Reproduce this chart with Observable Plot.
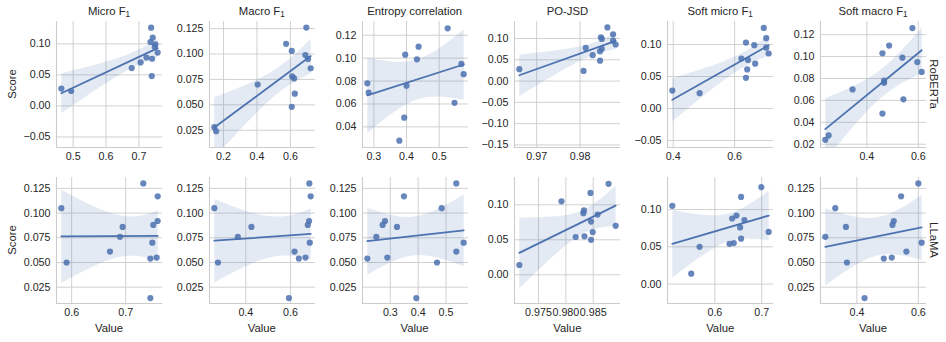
<!DOCTYPE html>
<html>
<head>
<meta charset="utf-8">
<script src="https://cdn.jsdelivr.net/npm/d3@7"></script>
<script src="https://cdn.jsdelivr.net/npm/@observablehq/plot@0.6"></script>
<style>
  html, body { margin: 0; padding: 0; background: #fff; }
  #chart { position: relative; width: 946px; height: 342px; overflow: hidden;
           font-family: "Liberation Sans", Arial, sans-serif; color: #262626; }
  .abs { position: absolute; white-space: nowrap; }
  .title { font-size: 11.3px; text-align: center; line-height: 16px; }
  .sub { font-size: 0.72em; position: relative; top: 0.3em; }
  .lab { font-size: 11.3px; line-height: 14px; }
</style>
</head>
<body>
<div id="chart"></div>
<script>
// ---------- data ----------
const models = ["RoBERTa", "LLaMA"];
const titleText = ["Micro F", "Macro F", "Entropy correlation", "PO-JSD", "Soft micro F", "Soft macro F"];
const titleSub  = ["1", "1", "", "", "1", "1"];

const robertaScore = [0.126, 0.110, 0.103, 0.099, 0.095, 0.086, 0.078, 0.076, 0.070, 0.061, 0.048, 0.028, 0.024];
const robertaMicroF1   = [0.737, 0.742, 0.735, 0.750, 0.748, 0.757, 0.723, 0.740, 0.705, 0.678, 0.739, 0.464, 0.494];
const robertaMacroF1   = [0.695, 0.574, 0.608, 0.689, 0.705, 0.721, 0.610, 0.622, 0.404, 0.626, 0.608, 0.145, 0.156];
const robertaEntropy   = [0.526, 0.437, 0.396, 0.432, 0.568, 0.575, 0.280, 0.400, 0.284, 0.547, 0.393, 0.378, null];
const robertaPoJsd     = [0.9863, 0.9876, 0.9848, 0.9850, 0.9876, 0.9882, 0.9813, 0.9850, 0.9846, 0.9829, 0.9846, 0.9660, 0.9808];
const robertaSoftMicro = [0.695, 0.703, 0.637, 0.664, 0.703, 0.711, 0.622, 0.6435, 0.667, 0.641, 0.637, 0.397, 0.486];
const robertaSoftMacro = [0.577, 0.4865, 0.4606, 0.538, 0.596, 0.613, 0.467, 0.467, 0.3445, 0.542, 0.4606, 0.2516, 0.2387];

const llamaScore = [0.130, 0.117, 0.105, 0.092, 0.088, 0.086, 0.076, 0.070, 0.061, 0.055, 0.054, 0.050, 0.014];
const llamaMicroF1   = [0.7327, 0.7593, 0.5809, 0.7593, 0.7512, 0.6944, 0.6895, 0.7494, 0.671, 0.7574, 0.7457, 0.5907, 0.7457];
const llamaMacroF1   = [0.684, 0.690, 0.2593, 0.683, 0.677, 0.4252, 0.3644, 0.686, 0.6178, 0.6667, 0.637, 0.2756, 0.5926];
const llamaEntropy   = [0.537, 0.349, 0.4844, 0.2808, 0.2725, 0.324, 0.2497, 0.5635, 0.537, 0.2892, 0.2174, 0.4677, 0.3934];
const llamaPoJsd     = [0.9878, 0.9845, 0.9792, 0.9833, 0.9832, 0.9858, 0.9846, 0.9891, 0.9849, 0.9834, 0.9818, 0.9846, 0.9715];
const llamaSoftMicro = [0.6993, 0.656, 0.5092, 0.6461, 0.6369, 0.6631, 0.6539, 0.7149, 0.656, 0.6404, 0.6312, 0.5674, 0.5496];
const llamaSoftMacro = [0.600, 0.5438, 0.3297, 0.520, 0.5157, 0.3643, 0.2973, 0.6108, 0.5611, 0.5135, 0.4876, 0.3676, 0.4249];

const xTickLabels = [
  [["0.5","0.6","0.7"], ["0.2","0.4","0.6"], ["0.3","0.4","0.5"], ["0.97","0.98"], ["0.4","0.6"], ["0.4","0.6"]],
  [["0.6","0.7"], ["0.4","0.6"], ["0.3","0.4","0.5"], ["0.975","0.980","0.985"], ["0.6","0.7"], ["0.4","0.6"]]
];
const yTickLabels = [
  [["−0.05","0.00","0.05","0.10"], ["0.025","0.050","0.075","0.100","0.125"], ["0.04","0.06","0.08","0.10","0.12"],
   ["−0.15","−0.10","−0.05","0.00","0.05","0.10"], ["−0.05","0.00","0.05","0.10"], ["0.02","0.04","0.06","0.08","0.10","0.12"]],
  [["0.025","0.050","0.075","0.100","0.125"], ["0.025","0.050","0.075","0.100","0.125"], ["0.025","0.050","0.075","0.100","0.125"],
   ["0.00","0.05","0.10"], ["0.00","0.05","0.10"], ["0.025","0.050","0.075","0.100","0.125"]]
];
const yDomains = [
  [[-0.067, 0.136], [0.008, 0.132], [0.022, 0.132], [-0.156, 0.140], [-0.061, 0.136], [0.017, 0.132]],
  [[0.0085, 0.136], [0.0085, 0.136], [0.0085, 0.136], [-0.041, 0.139], [-0.026, 0.143], [0.0085, 0.136]]
];
const xSeries = [
  [robertaMicroF1, robertaMacroF1, robertaEntropy, robertaPoJsd, robertaSoftMicro, robertaSoftMacro],
  [llamaMicroF1, llamaMacroF1, llamaEntropy, llamaPoJsd, llamaSoftMicro, llamaSoftMacro]
];
const scores = [robertaScore, llamaScore];

// ---------- layout ----------
const W = 106, H = 126;
const lefts = d3.range(6).map(i => 56 + 152.8 * i);
const tops = [20.7, 176.7];
const mL = 52, mR = 12, mT = 6, mB = 26;
const blue = "#4c72b0";
const grid = "#cccccc";
const chart = document.getElementById("chart");

const num = s => +s.replace("−", "-");

function panel(xs, ys, xl, yl, yDom) {
  const data = xs.map((x, i) => ({x, y: ys[i]})).filter(d => d.x != null);
  const ext = d3.extent(data, d => d.x);
  const pad = (ext[1] - ext[0]) * 0.05;
  const xDom = [ext[0] - pad, ext[1] + pad];
  const xt = xl.map(num), yt = yl.map(num);
  const xFmt = new Map(xt.map((v, i) => [v, xl[i]]));
  const yFmt = new Map(yt.map((v, i) => [v, yl[i]]));
  return Plot.plot({
    width: mL + W + mR, height: mT + H + mB,
    marginLeft: mL, marginRight: mR, marginTop: mT, marginBottom: mB,
    x: {domain: xDom},
    y: {domain: yDom},
    style: {fontFamily: '"Liberation Sans", Arial, sans-serif', fontSize: "10.7px",
            color: "#262626", background: "transparent", overflow: "visible"},
    marks: [
      Plot.gridX(xt, {stroke: grid, strokeOpacity: 1, strokeWidth: 0.9}),
      Plot.gridY(yt, {stroke: grid, strokeOpacity: 1, strokeWidth: 0.9}),
      Plot.ruleX([xDom[0]], {stroke: grid, strokeWidth: 1.1}),
      Plot.ruleY([yDom[0]], {stroke: grid, strokeWidth: 1.1}),
      Plot.axisX(xt, {tickSize: 0, tickPadding: 5, tickFormat: d => xFmt.get(d), label: null}),
      Plot.axisY(yt, {tickSize: 0, tickPadding: 6, tickFormat: d => yFmt.get(d), label: null}),
      Plot.dot(data, {x: "x", y: "y", r: 3.1, fill: blue, fillOpacity: 0.85, stroke: "none"}),
      Plot.linearRegressionY(data, {x: "x", y: "y", stroke: blue, fill: blue, fillOpacity: 0.15,
                                    strokeWidth: 1.8, clip: true})
    ]
  });
}

for (let r = 0; r < 2; r++) {
  for (let c = 0; c < 6; c++) {
    const svg = panel(xSeries[r][c], scores[r], xTickLabels[r][c], yTickLabels[r][c], yDomains[r][c]);
    svg.style.position = "absolute";
    svg.style.left = (lefts[c] - mL) + "px";
    svg.style.top = (tops[r] - mT) + "px";
    chart.appendChild(svg);
  }
}

// titles
for (let c = 0; c < 6; c++) {
  const d = document.createElement("div");
  d.className = "abs title";
  d.style.left = (lefts[c] + W / 2 - 80) + "px";
  d.style.width = "160px";
  d.style.top = "3px";
  d.innerHTML = titleText[c] + (titleSub[c] ? `<span class="sub">${titleSub[c]}</span>` : "");
  chart.appendChild(d);
}
// Value labels
for (let c = 0; c < 6; c++) {
  const d = document.createElement("div");
  d.className = "abs lab";
  d.style.left = (lefts[c] + W / 2 - 40) + "px";
  d.style.width = "80px";
  d.style.textAlign = "center";
  d.style.top = "321px";
  d.textContent = "Value";
  chart.appendChild(d);
}
// Score labels and row labels
for (let r = 0; r < 2; r++) {
  const cy = tops[r] + H / 2;
  const s = document.createElement("div");
  s.className = "abs lab";
  s.style.width = "80px"; s.style.textAlign = "center";
  s.style.left = (12 - 40) + "px";
  s.style.top = (cy - 7) + "px";
  s.style.transform = "rotate(-90deg)";
  s.textContent = "Score";
  chart.appendChild(s);

  const m = document.createElement("div");
  m.className = "abs lab";
  m.style.width = "80px"; m.style.textAlign = "center";
  m.style.left = (934 - 40) + "px";
  m.style.top = (cy - 7) + "px";
  m.style.transform = "rotate(90deg)";
  m.textContent = models[r];
  chart.appendChild(m);
}
</script>
</body>
</html>
